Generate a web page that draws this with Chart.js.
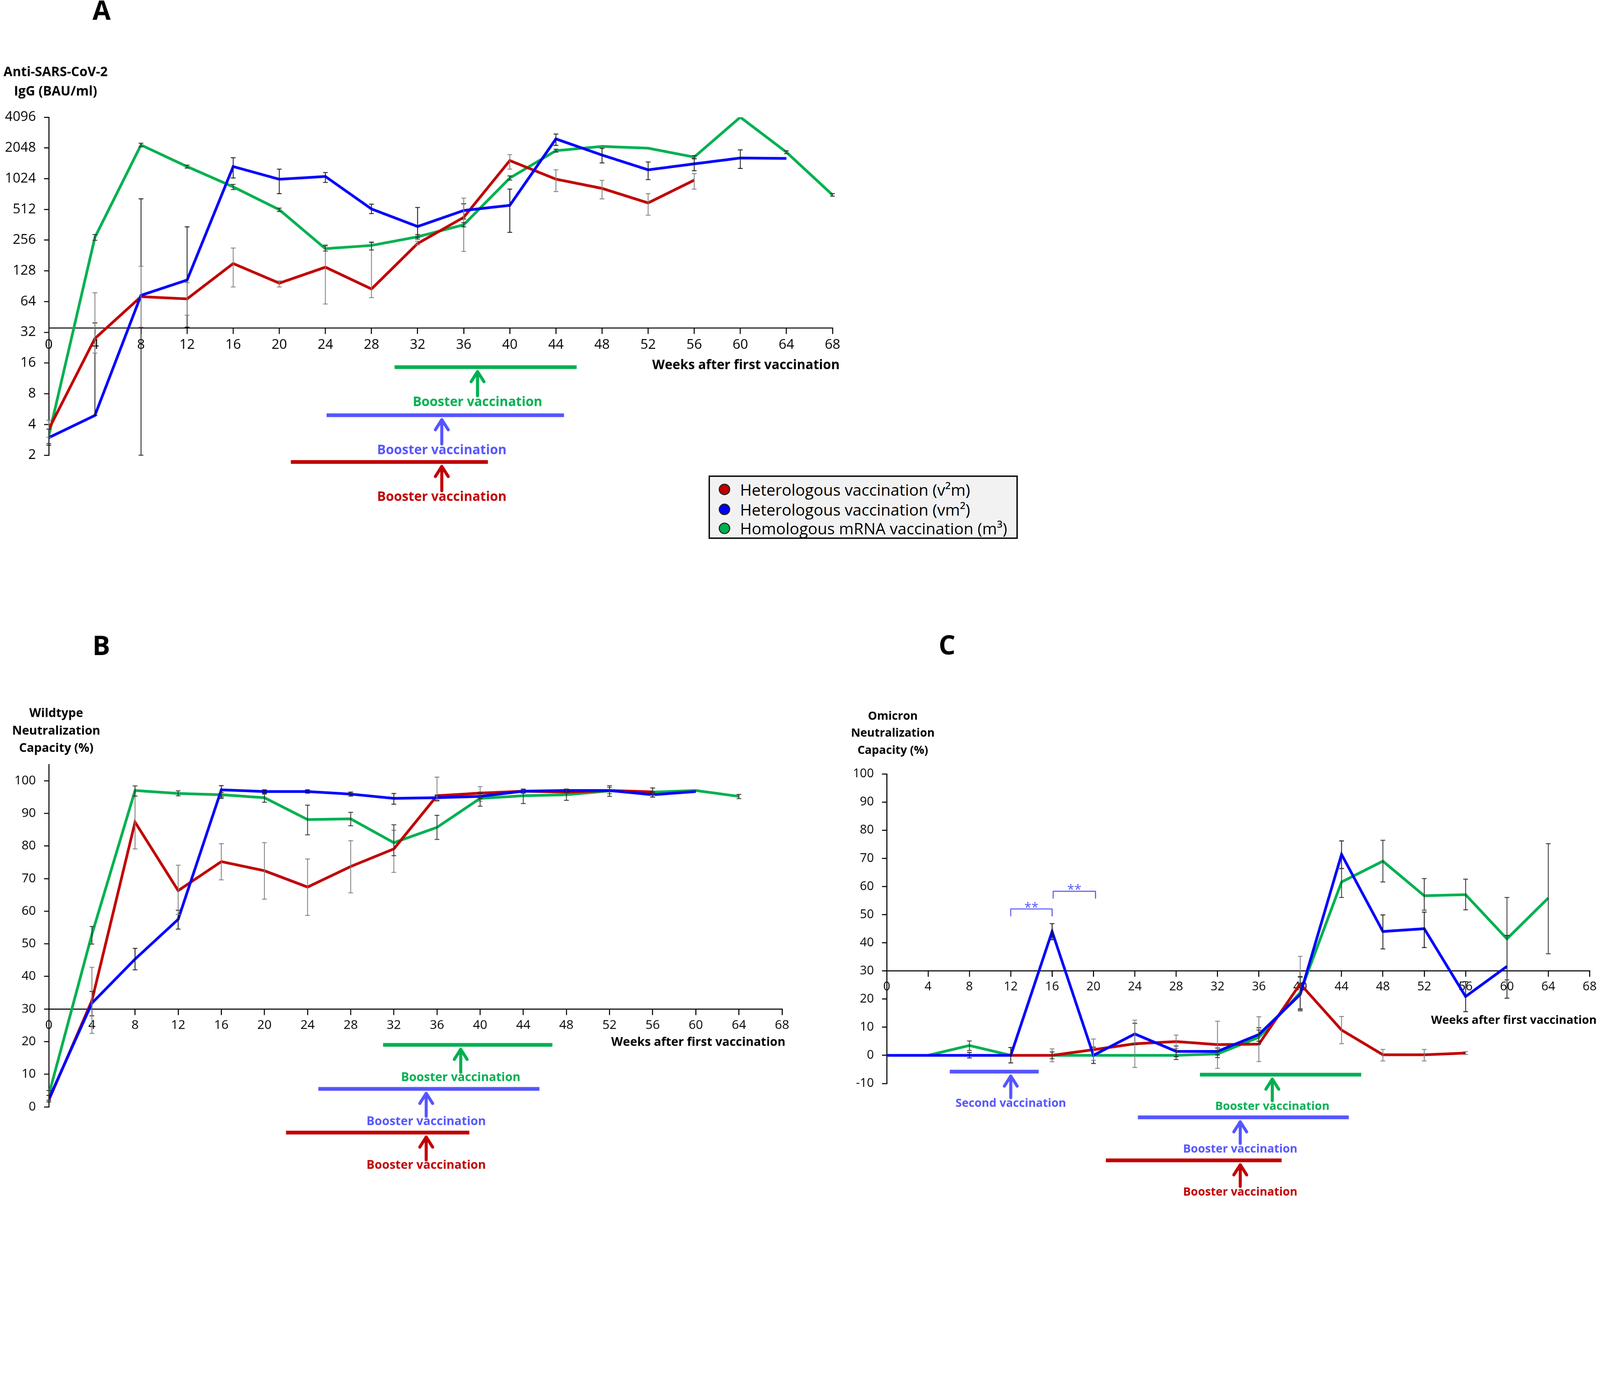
<!DOCTYPE html>
<html>
<head>
<meta charset="utf-8">
<script src="https://cdn.jsdelivr.net/npm/chart.js@4.4.1/dist/chart.umd.min.js"></script>
<style>
  body { margin: 0; background: #fff; overflow: hidden; font-family: "Open Sans", sans-serif; }
  #page { position: absolute; left: 0; top: 0; width: 4724px; height: 3538px; transform-origin: 0 0; background: #fff; }
  canvas { position: absolute; }
  #legend { position: absolute; left: 2092px; top: 1404px; width: 913px; height: 187px; box-sizing: border-box;
            border: 4px solid #000; background: #f2f2f2; }
  #legend .row { position: absolute; left: 0; height: 56px; line-height: 56px; font-size: 47px; color: #000; white-space: nowrap; }
  #legend .dot { position: absolute; left: 26px; top: 11px; width: 28px; height: 28px; border-radius: 50%; border: 3px solid #222; }
  #legend .txt { position: absolute; left: 89px; top: 0; }
</style>
</head>
<body>
<div id="page">
<canvas id="chartA" width="2600" height="1560" style="left:0;top:0"></canvas>
<canvas id="chartB" width="2400" height="1688" style="left:0;top:1850px"></canvas>
<canvas id="chartC" width="2244" height="1688" style="left:2480px;top:1850px"></canvas>
<div id="legend">
  <div class="row" style="top:9px"><span class="dot" style="background:#c00000"></span><span class="txt">Heterologous vaccination (v²m)</span></div>
  <div class="row" style="top:68px"><span class="dot" style="background:#0000ff"></span><span class="txt">Heterologous vaccination (vm²)</span></div>
  <div class="row" style="top:124px"><span class="dot" style="background:#00b050"></span><span class="txt">Homologous mRNA vaccination (m³)</span></div>
</div>
</div>
<script>
// ── escala de página: el diseño está en px de la figura original (4724 de ancho) ──
document.getElementById('page').style.transform = `scale(${window.innerWidth / 4724})`;

// ── datos ──
const weeks = [0, 4, 8, 12, 16, 20, 24, 28, 32, 36, 40, 44, 48, 52, 56, 60, 64, 68];

// A: Anti-SARS-CoV-2 IgG (BAU/ml), log2 axis
const yTicksA = [2, 4, 8, 16, 32, 64, 128, 256, 512, 1024, 2048, 4096];
const iggV2m = [3.6, 27.8, 71.5, 68, 151, 97, 139, 85, 237, 428, 1540, 1012, 822, 592, 990];
const iggVm2 = [2.97, 4.9, 73.6, 104, 1345, 1010, 1075, 517, 348, 499, 561, 2510, 1745, 1250, 1430, 1630, 1615];
const iggM3  = [3.1, 272, 2190, 1345, 851, 508, 211, 227, 276, 362, 1038, 1925, 2120, 2035, 1665, 4096, 1860, 709];
const iggV2mErr = [[3.0, 4.4], [20, 78], [36, 142], [47, 98], [89, 214], [89, 102], [60.6, 230], [70, 241], [230, 250],
                   [198, 660], [1270, 1760], [765, 1250], [648, 983], [449, 728], [810, 1145]];
const iggVm2Err = [[2.5, 3.6], [4.9, 39.5], [2, 650], [36, 345], [1040, 1640], [730, 1270], [940, 1175], [465, 576], [273, 535],
                   [412, 580], [305, 810], [2170, 2800], [1460, 2030], [1003, 1490], [1225, 1610], [1290, 1960], null];
const iggM3Err  = [[2.6, 3.6], [255, 290], [2100, 2280], [1300, 1390], [800, 900], [488, 527], [200, 225], [205, 245], [262, 290],
                   [345, 380], [990, 1090], [1860, 1990], null, null, [1600, 1720], null, [1800, 1920], [690, 730]];

// B: Wildtype neutralization capacity (%)
const yTicksB = [0, 10, 20, 30, 40, 50, 60, 70, 80, 90, 100];
const wtV2m = [2.0, 32.6, 87.3, 66.3, 75.2, 72.4, 67.4, 73.7, 79.1, 95.4, 96.2, 96.8, 96.5, 97.0, 96.6];
const wtVm2 = [2.4, 31.8, 45.3, 57.5, 97.2, 96.7, 96.7, 95.9, 94.6, 94.8, 95.2, 96.8, 97.0, 97.0, 95.7, 96.7];
const wtM3  = [3.7, 52.9, 97.0, 96.1, 95.7, 94.8, 88.1, 88.3, 81.0, 85.7, 94.6, 95.4, 95.7, 96.9, 96.5, 97.0, 95.2];
const wtV2mErr = [null, [22.5, 42.8], [79.1, 95.3], [59, 74.1], [69.6, 80.7], [63.7, 81.0], [58.7, 76.0], [65.6, 81.6], [71.9, 84.8],
                  [93.7, 101.1], [93.7, 98.2], [95.5, 97.5], [95.5, 97.5], [96, 98], [95.5, 97.8]];
const wtVm2Err = [[1.5, 3.5], [27.9, 35.4], [42.0, 48.6], [54.5, 60.3], [94.6, 98.5], [96.2, 97.2], [96.2, 97.2], [95.3, 96.5], [92.8, 96.1],
                  [94.0, 95.6], [94.5, 96], [96.2, 97.4], [96.5, 97.5], [96, 98], [95, 96.5], null];
const wtM3Err  = [[2, 5], [49.9, 55.3], [95.3, 98.4], [95.4, 96.9], [95, 96.4], [93.4, 95.9], [83.4, 92.5], [86.2, 90.3], [77.0, 86.5],
                  [82.0, 89.4], [92.2, 96.5], [93.0, 97.4], [94.0, 97.4], [95.2, 98.5], [95.0, 97.8], null, [94.5, 95.8]];

// C: Omicron neutralization capacity (%)
const yTicksC = [-10, 0, 10, 20, 30, 40, 50, 60, 70, 80, 90, 100];
const omV2m = [0, 0, 0, 0, 0, 2.0, 4.1, 4.9, 3.8, 4.0, 25.4, 9.0, 0.2, 0.2, 0.8];
const omVm2 = [0, 0, 0, 0, 44.0, 0, 7.6, 1.4, 1.4, 7.4, 21.6, 71.4, 44.0, 45.0, 20.9, 31.6];
const omM3  = [0, 0, 3.5, 0, 0, 0, 0, 0, 0.5, 6.4, 22.3, 61.6, 69.0, 56.7, 57.1, 41.4, 55.9];
const omV2mErr = [null, null, null, null, [-2.3, 2.3], [-1.8, 5.8], [-4.3, 12.5], [2.5, 7.2], [-4.6, 12.1],
                  [-2.2, 13.7], [15.7, 35.2], [4.1, 13.8], [-2.0, 2.1], [-2.0, 2.1], [0.3, 1.3]];
const omVm2Err = [null, null, [-0.9, 1.0], [-2.7, 2.8], [41.1, 46.8], [-2.9, 2.9], [3.8, 11.4], [-0.5, 3.3], [0.1, 2.6],
                  [5.0, 9.8], [16.1, 27.8], [66.4, 76.2], [37.8, 49.9], [38.3, 50.9], [15.5, 26.2], [20.3, 42.6]];
const omM3Err  = [null, null, [1.7, 5.1], null, [-1.2, 1.2], null, null, [-1.5, 1.5], [-0.8, 1.8],
                  [4.0, 9.0], [16.5, 28.0], [56.1, 66.4], [61.6, 76.4], [51.6, 62.8], [51.7, 62.6], [26.8, 56.1], [36.1, 75.2]];

const RED = '#c00000', BLUE = '#0000ff', GREEN = '#00b050', LBLUE = '#5555ff';
const FONT = '"Open Sans", sans-serif';

function series(label, values, err, color, errColor) {
  return {
    label,
    data: values.map((v, i) => ({ x: weeks[i], y: v })),
    err,
    errColor,
    borderColor: color,
    backgroundColor: color,
    borderWidth: 8,
    pointRadius: 0,
    tension: 0
  };
}

// barras de error (media ± SEM)
const errorBars = {
  id: 'errorBars',
  afterDatasetsDraw(chart) {
    const { ctx, scales: { x, y } } = chart;
    ctx.save();
    ctx.lineWidth = 2.5;
    chart.data.datasets.forEach(ds => {
      ctx.strokeStyle = ds.errColor;
      ds.data.forEach((p, i) => {
        const e = ds.err[i];
        if (!e) return;
        const px = x.getPixelForValue(p.x);
        const y1 = y.getPixelForValue(e[0]), y2 = y.getPixelForValue(e[1]);
        ctx.beginPath();
        ctx.moveTo(px, y1); ctx.lineTo(px, y2);
        ctx.moveTo(px - 7, y1); ctx.lineTo(px + 7, y1);
        ctx.moveTo(px - 7, y2); ctx.lineTo(px + 7, y2);
        ctx.stroke();
      });
    });
    ctx.restore();
  }
};

// títulos, flechas de vacunación y corchetes
function decor(cfg) {
  return {
    id: 'decor',
    afterDraw(chart) {
      const { ctx, scales: { x, y } } = chart;
      ctx.save();
      ctx.fillStyle = '#000';
      ctx.textAlign = 'center';
      ctx.textBaseline = 'middle';
      ctx.font = `bold 78px ${FONT}`;
      ctx.fillText(cfg.letter, cfg.letterX, cfg.letterY);

      ctx.font = `bold ${cfg.titleSize}px ${FONT}`;
      cfg.yTitle.forEach((t, i) => ctx.fillText(t, cfg.yTitleX, cfg.yTitleY + i * cfg.yTitleGap));
      ctx.textAlign = 'right';
      ctx.fillText('Weeks after first vaccination', cfg.xTitleRight, cfg.xTitleY);

      ctx.textAlign = 'center';
      cfg.marks.forEach(m => {
        const x1 = x.getPixelForValue(m.from), x2 = x.getPixelForValue(m.to), ax = x.getPixelForValue(m.at);
        ctx.strokeStyle = m.color;
        ctx.fillStyle = m.color;
        ctx.lineWidth = 11;
        ctx.lineCap = 'butt';
        ctx.beginPath(); ctx.moveTo(x1, m.y); ctx.lineTo(x2, m.y); ctx.stroke();
        const tip = m.y + 13, tail = tip + cfg.arrowLen;
        ctx.lineWidth = 9;
        ctx.lineCap = 'round';
        ctx.lineJoin = 'round';
        ctx.beginPath();
        ctx.moveTo(ax, tail); ctx.lineTo(ax, tip);
        ctx.moveTo(ax - 19, tip + 30); ctx.lineTo(ax, tip); ctx.lineTo(ax + 19, tip + 30);
        ctx.stroke();
        ctx.font = `bold ${cfg.labelSize}px ${FONT}`;
        ctx.fillText(m.label, ax, m.y + cfg.labelGap);
      });

      (cfg.brackets || []).forEach(k => {
        const bx1 = x.getPixelForValue(k.from), bx2 = x.getPixelForValue(k.to);
        const top = y.getPixelForValue(k.top), foot = y.getPixelForValue(k.foot);
        ctx.strokeStyle = LBLUE;
        ctx.fillStyle = LBLUE;
        ctx.lineWidth = 3;
        ctx.lineCap = 'butt';
        ctx.beginPath();
        ctx.moveTo(bx1, foot); ctx.lineTo(bx1, top); ctx.lineTo(bx2, top); ctx.lineTo(bx2, foot);
        ctx.stroke();
        ctx.font = `38px ${FONT}`;
        ctx.textBaseline = 'alphabetic';
        ctx.fillText('**', (bx1 + bx2) / 2, top + 8);
        ctx.textBaseline = 'middle';
      });
      ctx.restore();
    }
  };
}

function makeChart(id, datasets, yScale, yTicks, cross, tickSize, pad, axisW, cfg) {
  return new Chart(document.getElementById(id), {
    type: 'line',
    data: { datasets },
    options: {
      responsive: false,
      animation: false,
      devicePixelRatio: 1,
      layout: { padding: pad },
      plugins: { legend: { display: false }, tooltip: { enabled: false } },
      scales: {
        x: {
          type: 'linear',
          min: 0, max: 68,
          position: { y: cross },
          border: { color: '#000', width: 3 },
          grid: { drawOnChartArea: false, tickLength: 16, color: '#000', lineWidth: 3 },
          ticks: { stepSize: 4, color: '#000', padding: 10, font: { family: FONT, size: tickSize } }
        },
        y: Object.assign({
          position: 'left',
          afterBuildTicks: ax => { ax.ticks = yTicks.map(v => ({ value: v })); },
          afterFit: ax => { ax.width = axisW; },
          border: { color: '#000', width: 3 },
          grid: { drawOnChartArea: false, tickLength: 14, color: '#000', lineWidth: 3 },
          ticks: { color: '#000', padding: 24, font: { family: FONT, size: tickSize }, callback: v => v }
        }, yScale)
      }
    },
    plugins: [errorBars, decor(cfg)]
  });
}

// Panel A
makeChart('chartA', [
  series('Heterologous vaccination (vm²)', iggVm2, iggVm2Err, BLUE, '#1a1a1a'),
  series('Heterologous vaccination (v²m)', iggV2m, iggV2mErr, RED, '#808080'),
  series('Homologous mRNA vaccination (m³)', iggM3, iggM3Err, GREEN, '#333333')
], { type: 'logarithmic', min: 2, max: 4096 }, yTicksA, 35.2, 40,
{ top: 346, bottom: 216, left: 0, right: 142 }, 144, {
  letter: 'A', letterX: 300, letterY: 36,
  yTitle: ['Anti-SARS-CoV-2', 'IgG (BAU/ml)'], yTitleX: 164, yTitleY: 214, yTitleGap: 57, titleSize: 38.5,
  xTitleRight: 2479, xTitleY: 1079,
  arrowLen: 72, labelGap: 104, labelSize: 38.5,
  marks: [
    { from: 30.0, to: 45.8, at: 37.2, y: 1084, color: GREEN, label: 'Booster vaccination' },
    { from: 24.1, to: 44.7, at: 34.1, y: 1226, color: LBLUE, label: 'Booster vaccination' },
    { from: 21.0, to: 38.1, at: 34.1, y: 1364, color: RED, label: 'Booster vaccination' }
  ]
});

// Panel B
makeChart('chartB', [
  series('Heterologous vaccination (vm²)', wtVm2, wtVm2Err, BLUE, '#1a1a1a'),
  series('Heterologous vaccination (v²m)', wtV2m, wtV2mErr, RED, '#808080'),
  series('Homologous mRNA vaccination (m³)', wtM3, wtM3Err, GREEN, '#333333')
], { type: 'linear', min: 0, max: 105 }, yTicksB, 30, 37,
{ top: 407, bottom: 270, left: 0, right: 91 }, 144, {
  letter: 'B', letterX: 299, letterY: 62,
  yTitle: ['Wildtype', 'Neutralization', 'Capacity (%)'], yTitleX: 166, yTitleY: 257, yTitleGap: 51.5, titleSize: 35.8,
  xTitleRight: 2319, xTitleY: 1228,
  arrowLen: 68, labelGap: 97, labelSize: 35.5,
  marks: [
    { from: 31.0, to: 46.7, at: 38.2, y: 1235, color: GREEN, label: 'Booster vaccination' },
    { from: 25.0, to: 45.5, at: 35.0, y: 1365, color: LBLUE, label: 'Booster vaccination' },
    { from: 22.0, to: 39.0, at: 35.0, y: 1494, color: RED, label: 'Booster vaccination' }
  ]
});

// Panel C
makeChart('chartC', [
  series('Heterologous vaccination (vm²)', omVm2, omVm2Err, BLUE, '#1a1a1a'),
  series('Heterologous vaccination (v²m)', omV2m, omV2mErr, RED, '#808080'),
  series('Homologous mRNA vaccination (m³)', omM3, omM3Err, GREEN, '#333333')
], { type: 'linear', min: -10, max: 100 }, yTicksC, 30, 36,
{ top: 435, bottom: 339, left: 0, right: 27 }, 138, {
  letter: 'C', letterX: 316, letterY: 60,
  yTitle: ['Omicron', 'Neutralization', 'Capacity (%)'], yTitleX: 156, yTitleY: 265, yTitleGap: 50.5, titleSize: 34,
  xTitleRight: 2234, xTitleY: 1163,
  arrowLen: 64, labelGap: 94, labelSize: 34,
  marks: [
    { from: 6.1, to: 14.7, at: 12.0, y: 1314, color: LBLUE, label: 'Second vaccination' },
    { from: 30.3, to: 45.9, at: 37.3, y: 1323, color: GREEN, label: 'Booster vaccination' },
    { from: 24.3, to: 44.7, at: 34.2, y: 1449, color: LBLUE, label: 'Booster vaccination' },
    { from: 21.2, to: 38.2, at: 34.2, y: 1576, color: RED, label: 'Booster vaccination' }
  ],
  brackets: [
    { from: 12.0, to: 16.0, top: 52.0, foot: 49.4 },
    { from: 16.1, to: 20.2, top: 58.3, foot: 55.7 }
  ]
});
</script>
</body>
</html>
